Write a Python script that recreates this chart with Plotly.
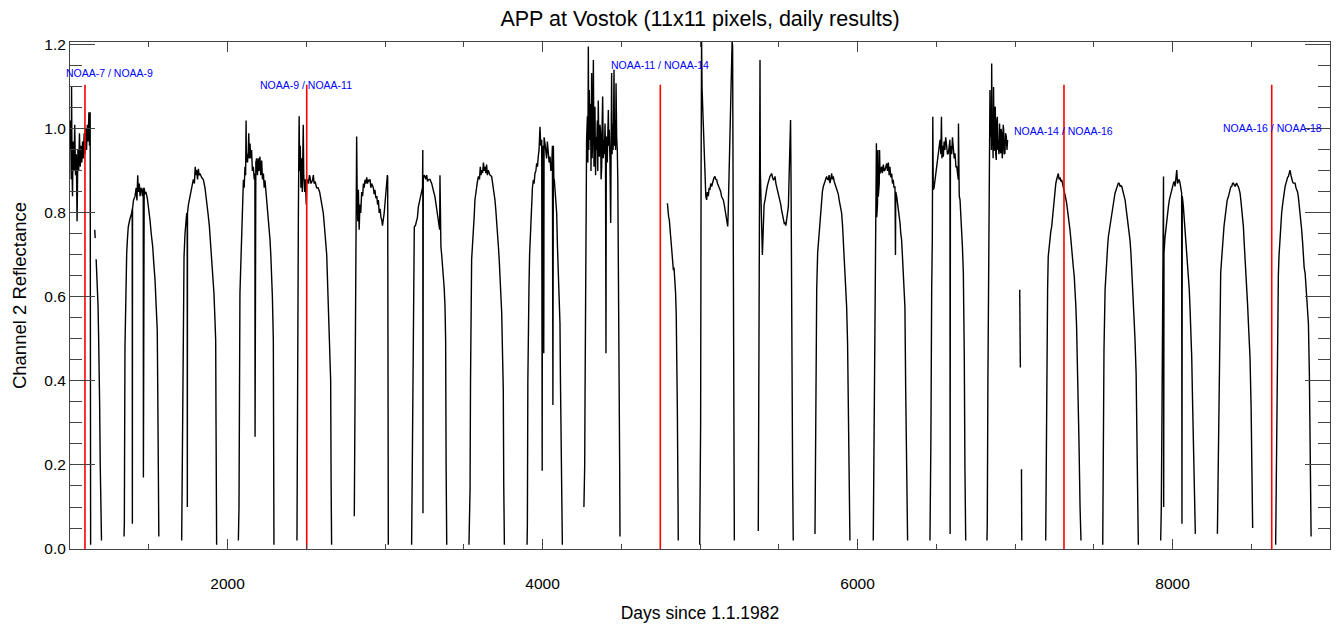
import plotly.graph_objects as go

# ---------------- data ----------------
# Days since 1.1.1982 and channel-2 reflectance, one pair of lists per data stretch
s01_day = [1000, 1004, 1008, 1010, 1013, 1016, 1020, 1025, 1030, 1035, 1040, 1045, 1050, 1055, 1060, 1065,
           1070, 1075, 1080, 1085, 1090, 1095, 1100, 1105, 1110, 1115, 1120, 1124, 1128, 1131]
s01_val = [0.95, 1.02, 0.88, 1.10, 0.90, 0.84, 0.97, 0.90, 1.01, 0.89, 0.94, 0.78, 0.95, 0.90, 0.99, 0.91,
           0.96, 0.92, 0.97, 0.93, 0.99, 0.94, 1.00, 0.95, 1.01, 0.97, 1.04, 0.96, 1.04, 0.01]

s02_day = [1157, 1160]
s02_val = [0.76, 0.74]

s03_day = [1166, 1170, 1174, 1178, 1182, 1185, 1188, 1192, 1196, 1200]
s03_val = [0.69, 0.66, 0.62, 0.58, 0.50, 0.44, 0.35, 0.20, 0.10, 0.02]

s04_day = [1343, 1345, 1349, 1354, 1360, 1365, 1370, 1380, 1392, 1395, 1396, 1397, 1403, 1413, 1420, 1425,
           1430, 1434, 1440, 1445, 1450, 1455, 1460, 1465, 1466, 1467, 1471, 1476, 1482, 1491, 1500, 1508,
           1516, 1525, 1532, 1540, 1547, 1554, 1557, 1561, 1564]
s04_val = [0.03, 0.06, 0.48, 0.62, 0.705, 0.74, 0.767, 0.785, 0.80, 0.81, 0.06, 0.81, 0.83, 0.84, 0.86, 0.83,
           0.89, 0.85, 0.87, 0.84, 0.86, 0.855, 0.84, 0.86, 0.17, 0.85, 0.86, 0.845, 0.85, 0.835, 0.81, 0.783,
           0.75, 0.72, 0.68, 0.64, 0.58, 0.52, 0.386, 0.085, 0.03]

s05_day = [1709, 1712, 1716, 1720, 1724, 1730, 1736, 1741, 1744, 1745, 1746, 1752, 1762, 1772, 1783, 1790,
           1795, 1800, 1804, 1810, 1815, 1820, 1825, 1835, 1847, 1857, 1868, 1876, 1885, 1892, 1899, 1906,
           1914, 1920, 1925, 1927, 1929, 1931]
s05_val = [0.02, 0.15, 0.40, 0.577, 0.696, 0.75, 0.78, 0.80, 0.79, 0.10, 0.80, 0.82, 0.84, 0.865, 0.88, 0.87,
           0.91, 0.89, 0.902, 0.88, 0.905, 0.89, 0.894, 0.885, 0.879, 0.86, 0.831, 0.80, 0.768, 0.73, 0.696, 0.65,
           0.609, 0.55, 0.497, 0.315, 0.10, 0.01]

s06_day = [2069, 2073, 2079, 2085, 2090, 2095, 2101, 2106, 2111, 2115, 2118, 2120, 2122, 2127, 2132, 2135,
           2138, 2143, 2148, 2153, 2158, 2164, 2170, 2174, 2175, 2176, 2180, 2185, 2190, 2196, 2200, 2206,
           2211, 2217, 2222, 2228, 2233, 2238, 2244, 2249, 2254, 2259, 2265, 2270, 2275, 2280, 2285, 2291,
           2293, 2295]
s06_val = [0.02, 0.10, 0.609, 0.68, 0.70, 0.80, 0.879, 0.86, 0.91, 0.89, 1.02, 0.92, 0.94, 0.92, 0.95, 0.99,
           0.93, 0.965, 0.93, 0.95, 0.90, 0.91, 0.88, 0.894, 0.267, 0.90, 0.92, 0.93, 0.89, 0.93, 0.90, 0.934,
           0.89, 0.925, 0.88, 0.894, 0.86, 0.878, 0.85, 0.847, 0.82, 0.80, 0.77, 0.736, 0.70, 0.657, 0.60, 0.497,
           0.20, 0.01]

s07_day = [2441, 2443, 2446, 2450, 2453, 2455, 2458, 2462, 2466, 2470, 2475, 2481, 2484, 2490, 2495, 2500,
           2503, 2510, 2515, 2520, 2524, 2530, 2540, 2545, 2550, 2556, 2566, 2575, 2585, 2595, 2608, 2615,
           2622, 2630, 2635, 2640, 2646, 2651, 2655, 2658, 2661]
s07_val = [0.02, 0.30, 0.657, 0.80, 0.95, 1.03, 0.90, 0.96, 0.86, 0.93, 0.85, 1.01, 0.89, 0.85, 0.88, 0.82,
           0.87, 0.88, 0.87, 0.89, 0.885, 0.87, 0.878, 0.89, 0.87, 0.875, 0.86, 0.86, 0.85, 0.83, 0.80, 0.77,
           0.74, 0.70, 0.64, 0.577, 0.52, 0.497, 0.402, 0.15, 0.01]

s08_day = [2805, 2810, 2815, 2820, 2823, 2827, 2831, 2836, 2841, 2846, 2852, 2858, 2863, 2868, 2873, 2878,
           2884, 2889, 2894, 2900, 2905, 2910, 2915, 2920, 2926, 2931, 2936, 2942, 2948, 2953, 2958, 2963,
           2969, 2974, 2979, 2984, 2989, 2995, 3000, 3005, 3011, 3015, 3017, 3019, 3021]
s08_val = [0.078, 0.40, 0.80, 0.982, 0.86, 0.78, 0.855, 0.76, 0.82, 0.80, 0.85, 0.84, 0.87, 0.86, 0.879, 0.87,
           0.885, 0.87, 0.879, 0.875, 0.88, 0.86, 0.87, 0.865, 0.86, 0.845, 0.855, 0.835, 0.84, 0.82, 0.831, 0.80,
           0.81, 0.79, 0.784, 0.77, 0.78, 0.80, 0.823, 0.85, 0.879, 0.89, 0.886, 0.30, 0.01]

s09_day = [3169, 3173, 3177, 3180, 3183, 3186, 3193, 3201, 3206, 3212, 3222, 3233, 3238, 3240, 3241, 3242,
           3243, 3248, 3254, 3260, 3265, 3270, 3275, 3285, 3296, 3306, 3317, 3328, 3339, 3347, 3349, 3351,
           3355, 3360, 3365, 3370, 3376, 3381, 3385, 3388, 3392]
s09_val = [0.01, 0.17, 0.40, 0.545, 0.70, 0.767, 0.77, 0.78, 0.79, 0.815, 0.835, 0.855, 0.86, 0.95, 0.085, 0.88,
           0.879, 0.89, 0.887, 0.88, 0.89, 0.875, 0.879, 0.88, 0.871, 0.855, 0.839, 0.81, 0.784, 0.76, 0.89, 0.74,
           0.72, 0.70, 0.68, 0.657, 0.62, 0.577, 0.497, 0.20, 0.01]

s10_day = [3533, 3537, 3540, 3543, 3546, 3550, 3555, 3561, 3566, 3571, 3576, 3582, 3587, 3593, 3600, 3605,
           3610, 3614, 3620, 3625, 3630, 3635, 3640, 3645, 3650, 3656, 3666, 3677, 3688, 3698, 3703, 3709,
           3714, 3720, 3725, 3730, 3736, 3741, 3747, 3751, 3754, 3758]
s10_val = [0.01, 0.10, 0.14, 0.40, 0.58, 0.689, 0.72, 0.752, 0.79, 0.831, 0.85, 0.863, 0.875, 0.887, 0.88, 0.91,
           0.89, 0.902, 0.895, 0.92, 0.90, 0.91, 0.895, 0.915, 0.89, 0.902, 0.89, 0.887, 0.863, 0.831, 0.81, 0.784,
           0.75, 0.72, 0.69, 0.657, 0.61, 0.562, 0.45, 0.38, 0.15, 0.01]

s11_day = [3902, 3904, 3907, 3910, 3914, 3918, 3921, 3926, 3931, 3936, 3942, 3947, 3952, 3958, 3963, 3968,
           3973, 3978, 3984, 3989, 3995, 3998, 4000, 4005, 4008, 4010, 4016, 4021, 4026, 4031, 4037, 4042,
           4048, 4053, 4058, 4063, 4066, 4069, 4072, 4075, 4079, 4084, 4090, 4095, 4100, 4104, 4107, 4111,
           4114, 4117, 4121, 4126]
s11_val = [0.01, 0.06, 0.40, 0.55, 0.62, 0.70, 0.736, 0.77, 0.80, 0.86, 0.879, 0.87, 0.894, 0.90, 0.918, 0.91,
           0.934, 0.95, 1.005, 0.96, 0.974, 0.186, 0.96, 0.95, 0.466, 0.98, 0.965, 0.94, 0.93, 0.97, 0.95, 0.92,
           0.934, 0.90, 0.91, 0.96, 0.343, 0.96, 0.88, 0.879, 0.863, 0.83, 0.80, 0.72, 0.657, 0.60, 0.577, 0.537,
           0.40, 0.307, 0.10, 0.01]

s12_day = [4263, 4268, 4270, 4276, 4280, 4285, 4288, 4291, 4294, 4297, 4301, 4305, 4308, 4312, 4315, 4318,
           4321, 4323, 4327, 4330, 4333, 4337, 4340, 4344, 4348, 4351, 4354, 4358, 4361, 4365, 4369, 4372,
           4376, 4379, 4382, 4386, 4390, 4393, 4397, 4400, 4403, 4405, 4407, 4411, 4414, 4418, 4421, 4424,
           4428, 4433, 4436, 4439, 4442, 4445, 4448, 4451, 4454, 4457, 4460, 4464, 4467, 4471, 4475, 4478,
           4481, 4484, 4488, 4490, 4492]
s12_val = [0.10, 0.20, 0.362, 0.815, 0.974, 1.03, 0.92, 1.196, 0.95, 1.093, 0.974, 1.06, 0.90, 1.133, 0.93, 0.974,
           1.08, 1.164, 0.91, 1.00, 1.053, 0.89, 0.98, 0.95, 1.02, 0.90, 1.068, 0.96, 0.934, 1.01, 0.99, 0.88,
           0.91, 1.02, 1.077, 0.93, 0.974, 0.94, 1.013, 0.95, 0.466, 0.96, 0.982, 0.92, 1.00, 1.045, 0.96, 0.998,
           0.93, 0.776, 0.98, 1.133, 0.94, 1.013, 0.95, 1.00, 1.141, 0.96, 1.021, 0.95, 1.109, 0.98, 0.95, 0.88,
           0.736, 0.60, 0.458, 0.20, 0.03]

s13_day = [4793, 4797, 4801, 4805, 4810, 4814, 4818, 4822, 4826, 4831, 4835, 4839, 4842, 4845, 4849, 4852,
           4856, 4860, 4862]
s13_val = [0.823, 0.80, 0.79, 0.784, 0.76, 0.736, 0.72, 0.72, 0.70, 0.664, 0.67, 0.65, 0.62, 0.609, 0.56, 0.497,
           0.338, 0.14, 0.02]

s14_day = [4998, 5002, 5004, 5007, 5010, 5013, 5017, 5021, 5025, 5028, 5032, 5037, 5042, 5047, 5053, 5058,
           5063, 5068, 5074, 5080, 5085, 5090, 5095, 5100, 5106, 5111, 5116, 5122, 5127, 5132, 5137, 5143,
           5148, 5154, 5159, 5164, 5169, 5173, 5176, 5179, 5182, 5186, 5190, 5193, 5195, 5198, 5201, 5204,
           5207, 5210, 5212, 5214, 5216, 5218]
s14_val = [0.01, 0.15, 0.30, 0.90, 1.207, 1.10, 1.053, 1.00, 0.942, 0.90, 0.879, 0.84, 0.831, 0.85, 0.84, 0.86,
           0.855, 0.87, 0.863, 0.875, 0.879, 0.885, 0.887, 0.88, 0.879, 0.87, 0.863, 0.86, 0.855, 0.85, 0.839, 0.835,
           0.831, 0.82, 0.807, 0.79, 0.784, 0.775, 0.768, 0.80, 0.855, 0.92, 0.974, 1.05, 1.093, 1.15, 1.207, 1.21,
           1.196, 0.70, 0.49, 0.346, 0.15, 0.02]

s15_day = [5370, 5373, 5375, 5377, 5379, 5381, 5383, 5385, 5388, 5391, 5394, 5396, 5398, 5402, 5407, 5413,
           5418, 5423, 5428, 5434, 5439, 5444, 5450, 5455, 5460, 5466, 5471, 5476, 5482, 5487, 5492, 5497,
           5502, 5508, 5513, 5518, 5524, 5529, 5535, 5540, 5545, 5550, 5555, 5561, 5564, 5567, 5571, 5575,
           5578, 5582, 5585, 5588, 5592]
s15_val = [0.043, 0.30, 0.65, 0.966, 0.85, 1.164, 0.90, 0.855, 0.80, 0.784, 0.74, 0.70, 0.72, 0.79, 0.82, 0.831,
           0.85, 0.855, 0.865, 0.871, 0.88, 0.887, 0.89, 0.894, 0.885, 0.879, 0.88, 0.887, 0.87, 0.863, 0.855, 0.847,
           0.84, 0.831, 0.82, 0.807, 0.795, 0.784, 0.775, 0.776, 0.77, 0.784, 0.80, 0.815, 0.86, 0.894, 0.974, 1.021,
           0.879, 0.418, 0.30, 0.18, 0.02]

s16_day = [5730, 5733, 5736, 5741, 5747, 5753, 5757, 5762, 5767, 5772, 5777, 5783, 5788, 5794, 5799, 5804,
           5810, 5815, 5820, 5825, 5830, 5836, 5841, 5846, 5852, 5857, 5862, 5868, 5873, 5878, 5884, 5889,
           5894, 5899, 5905, 5910, 5915, 5920, 5926, 5931, 5937, 5942, 5946, 5952]
s16_val = [0.036, 0.20, 0.402, 0.617, 0.705, 0.736, 0.76, 0.784, 0.81, 0.831, 0.85, 0.863, 0.87, 0.879, 0.885, 0.887,
           0.88, 0.879, 0.89, 0.871, 0.88, 0.894, 0.88, 0.887, 0.875, 0.87, 0.86, 0.855, 0.85, 0.845, 0.83, 0.82,
           0.81, 0.80, 0.77, 0.736, 0.70, 0.664, 0.62, 0.577, 0.49, 0.315, 0.163, 0.02]

s17_day = [6100, 6104, 6107, 6111, 6115, 6118, 6120, 6122, 6127, 6129, 6132, 6138, 6140, 6143, 6148, 6153,
           6158, 6164, 6169, 6174, 6180, 6185, 6190, 6196, 6201, 6206, 6211, 6217, 6222, 6227, 6232, 6238,
           6241, 6243, 6249, 6254, 6259, 6265, 6270, 6275, 6280, 6285, 6291, 6296, 6301, 6306, 6309, 6312, 6318]
s17_val = [0.02, 0.20, 0.339, 0.625, 0.736, 0.80, 0.966, 0.79, 0.82, 0.95, 0.839, 0.87, 0.95, 0.894, 0.90, 0.91,
           0.895, 0.915, 0.90, 0.902, 0.91, 0.918, 0.90, 0.92, 0.89, 0.91, 0.885, 0.894, 0.87, 0.879, 0.86, 0.863,
           0.70, 0.85, 0.839, 0.825, 0.815, 0.79, 0.776, 0.75, 0.736, 0.70, 0.664, 0.62, 0.577, 0.379, 0.25, 0.14, 0.02]

s18_day = [6460, 6463, 6466, 6471, 6475, 6478, 6481, 6486, 6492, 6497, 6502, 6508, 6513, 6518, 6524, 6529,
           6533, 6536, 6540, 6545, 6550, 6555, 6560, 6566, 6571, 6577, 6582, 6587, 6588, 6590, 6595, 6598,
           6603, 6608, 6614, 6619, 6625, 6630, 6635, 6640, 6641, 6643, 6646, 6651, 6656, 6661, 6666, 6672,
           6676, 6678, 6682, 6687]
s18_val = [0.02, 0.10, 0.26, 0.617, 0.736, 1.029, 0.855, 0.86, 0.879, 0.89, 0.91, 0.92, 0.942, 0.95, 0.974, 0.94,
           1.029, 0.93, 0.96, 0.934, 0.97, 0.95, 0.98, 0.96, 0.94, 0.942, 0.97, 0.974, 0.036, 0.95, 0.96, 0.94,
           0.98, 0.95, 0.93, 0.942, 0.91, 0.91, 0.89, 0.879, 1.013, 0.87, 0.84, 0.831, 0.80, 0.768, 0.72, 0.657,
           0.56, 0.458, 0.196, 0.02]

s19_day = [6822, 6824, 6828, 6831, 6834, 6837, 6839, 6841, 6844, 6848, 6850, 6852, 6855, 6858, 6861, 6864,
           6867, 6869, 6872, 6875, 6878, 6881, 6884, 6888, 6891, 6894, 6898, 6902, 6906, 6909, 6912, 6915,
           6919, 6922, 6925, 6928, 6932, 6936, 6940, 6945, 6949, 6953]
s19_val = [0.02, 0.06, 0.40, 0.537, 0.75, 0.855, 0.95, 1.093, 0.98, 1.038, 0.95, 1.156, 0.96, 0.99, 0.93, 1.10,
           0.95, 0.95, 1.05, 1.053, 0.94, 0.926, 1.02, 1.029, 0.95, 0.974, 0.94, 1.013, 0.95, 0.942, 1.00, 0.99,
           0.93, 0.95, 1.01, 0.998, 0.94, 0.942, 0.99, 0.982, 0.95, 0.974]

s20_day = [7030, 7032, 7034]
s20_val = [0.617, 0.50, 0.432]

s21_day = [7041, 7043]
s21_val = [0.19, 0.02]

s22_day = [7195, 7198, 7201, 7207, 7211, 7216, 7222, 7227, 7233, 7238, 7243, 7249, 7254, 7259, 7264, 7270,
           7275, 7280, 7286, 7291, 7296, 7302, 7307, 7312, 7317, 7322, 7328, 7333, 7338, 7343, 7349, 7354,
           7360, 7365, 7370, 7376, 7381, 7386, 7391, 7398, 7406, 7413, 7419]
s22_val = [0.02, 0.20, 0.418, 0.617, 0.696, 0.72, 0.744, 0.755, 0.768, 0.79, 0.807, 0.83, 0.855, 0.87, 0.879, 0.885,
           0.894, 0.88, 0.885, 0.875, 0.879, 0.87, 0.863, 0.855, 0.847, 0.835, 0.823, 0.81, 0.80, 0.78, 0.76, 0.74,
           0.72, 0.69, 0.672, 0.65, 0.625, 0.58, 0.53, 0.418, 0.26, 0.10, 0.02]

s23_day = [7557, 7561, 7565, 7572, 7577, 7582, 7588, 7593, 7598, 7603, 7608, 7614, 7620, 7625, 7630, 7635,
           7641, 7646, 7651, 7656, 7662, 7667, 7672, 7678, 7683, 7688, 7694, 7699, 7704, 7709, 7715, 7720,
           7725, 7730, 7736, 7741, 7746, 7752, 7757, 7762, 7769, 7773, 7779, 7783]
s23_val = [0.01, 0.26, 0.474, 0.617, 0.66, 0.696, 0.72, 0.744, 0.755, 0.768, 0.78, 0.792, 0.81, 0.823, 0.835, 0.847,
           0.855, 0.863, 0.868, 0.871, 0.87, 0.863, 0.865, 0.863, 0.855, 0.847, 0.84, 0.831, 0.815, 0.80, 0.785, 0.768,
           0.75, 0.736, 0.705, 0.672, 0.625, 0.577, 0.54, 0.497, 0.418, 0.30, 0.10, 0.01]

s24_day = [7925, 7929, 7932, 7935, 7938, 7941, 7943, 7944, 7945, 7946, 7952, 7959, 7963, 7968, 7974, 7980,
           7988, 7995, 8000, 8006, 8011, 8016, 8021, 8027, 8032, 8037, 8042, 8048, 8053, 8058, 8060, 8062,
           8065, 8069, 8074, 8080, 8085, 8090, 8095, 8101, 8106, 8111, 8117, 8122, 8128, 8137, 8145]
s24_val = [0.02, 0.10, 0.26, 0.45, 0.562, 0.65, 0.887, 0.10, 0.68, 0.705, 0.74, 0.768, 0.785, 0.80, 0.815, 0.831,
           0.845, 0.855, 0.865, 0.871, 0.875, 0.863, 0.88, 0.902, 0.87, 0.879, 0.88, 0.871, 0.86, 0.847, 0.06, 0.84,
           0.83, 0.815, 0.79, 0.768, 0.745, 0.72, 0.69, 0.657, 0.62, 0.577, 0.52, 0.458, 0.34, 0.18, 0.036]

s25_day = [8285, 8288, 8291, 8295, 8298, 8302, 8306, 8312, 8317, 8322, 8327, 8334, 8340, 8347, 8355, 8360,
           8365, 8370, 8376, 8381, 8387, 8392, 8397, 8403, 8408, 8413, 8418, 8424, 8429, 8434, 8439, 8445,
           8450, 8455, 8461, 8466, 8471, 8477, 8482, 8487, 8492, 8499, 8503, 8509]
s25_val = [0.036, 0.15, 0.26, 0.40, 0.497, 0.60, 0.657, 0.69, 0.72, 0.745, 0.768, 0.79, 0.815, 0.83, 0.839, 0.85,
           0.855, 0.862, 0.863, 0.87, 0.871, 0.865, 0.863, 0.868, 0.871, 0.865, 0.863, 0.855, 0.847, 0.83, 0.815, 0.79,
           0.768, 0.73, 0.696, 0.66, 0.617, 0.58, 0.537, 0.50, 0.458, 0.34, 0.22, 0.05]

s26_day = [8655, 8658, 8662, 8668, 8672, 8676, 8683, 8688, 8693, 8699, 8704, 8710, 8715, 8720, 8725, 8731,
           8736, 8741, 8746, 8752, 8757, 8762, 8767, 8773, 8778, 8784, 8789, 8794, 8799, 8805, 8810, 8815,
           8820, 8826, 8831, 8836, 8842, 8847, 8852, 8858, 8863, 8869, 8873, 8880]
s26_val = [0.01, 0.15, 0.339, 0.577, 0.65, 0.696, 0.752, 0.78, 0.80, 0.82, 0.839, 0.85, 0.863, 0.87, 0.879, 0.885,
           0.887, 0.895, 0.902, 0.89, 0.879, 0.875, 0.871, 0.87, 0.871, 0.86, 0.855, 0.85, 0.839, 0.82, 0.80, 0.78,
           0.76, 0.73, 0.696, 0.67, 0.657, 0.63, 0.609, 0.57, 0.537, 0.418, 0.26, 0.03]

# satellite switch markers
switch_days = [1095, 2503, 4748, 7311, 8630]
switch_top = 1.105
switch_labels = ["NOAA-7 / NOAA-9", "NOAA-9 / NOAA-11", "NOAA-11 / NOAA-14",
                 "NOAA-14 / NOAA-16", "NOAA-16 / NOAA-18"]
label_days = [1248, 2500, 4748, 7308, 8632]
label_vals = [1.133, 1.105, 1.152, 0.995, 1.002]

x_ticks = [2000, 4000, 6000, 8000]
y_ticks = [0.0, 0.2, 0.4, 0.6, 0.8, 1.0, 1.2]
y_ticktext = ["0.0", "0.2", "0.4", "0.6", "0.8", "1.0", "1.2"]

# ---------------- figure ----------------
segments = [
    (s01_day, s01_val), (s02_day, s02_val), (s03_day, s03_val), (s04_day, s04_val),
    (s05_day, s05_val), (s06_day, s06_val), (s07_day, s07_val), (s08_day, s08_val),
    (s09_day, s09_val), (s10_day, s10_val), (s11_day, s11_val), (s12_day, s12_val),
    (s13_day, s13_val), (s14_day, s14_val), (s15_day, s15_val), (s16_day, s16_val),
    (s17_day, s17_val), (s18_day, s18_val), (s19_day, s19_val), (s20_day, s20_val),
    (s21_day, s21_val), (s22_day, s22_val), (s23_day, s23_val), (s24_day, s24_val),
    (s25_day, s25_val), (s26_day, s26_val),
]
xs, ys = [], []
for d, v in segments:
    xs += list(d) + [None]
    ys += list(v) + [None]

FONT = "Liberation Sans, Arial, Helvetica, sans-serif"
AX = "#444444"

fig = go.Figure()
fig.add_trace(go.Scatter(x=xs, y=ys, mode="lines", connectgaps=False,
                         line=dict(color="black", width=1.4),
                         hoverinfo="skip", showlegend=False))

rx, ry = [], []
for d in switch_days:
    rx += [d, d, None]
    ry += [0, switch_top, None]
fig.add_trace(go.Scatter(x=rx, y=ry, mode="lines", line=dict(color="#ff0000", width=1.6),
                         hoverinfo="skip", showlegend=False))

for t, d, v in zip(switch_labels, label_days, label_vals):
    fig.add_annotation(x=d, y=v, xref="x", yref="y", text=t, showarrow=False,
                       xanchor="center", yanchor="middle",
                       font=dict(family=FONT, size=10.5, color="#0000ff"))

fig.update_layout(
    width=1337, height=629,
    margin=dict(l=70, r=7, t=42, b=80, autoexpand=False),
    paper_bgcolor="white", plot_bgcolor="white",
    font=dict(family=FONT, color="black"),
    title=dict(text="APP at Vostok (11x11 pixels, daily results)",
               x=0.5, xref="paper", xanchor="center",
               y=1 - 18 / 629, yref="container", yanchor="middle",
               font=dict(family=FONT, size=21.5, color="black")),
    showlegend=False,
)
fig.update_xaxes(
    range=[1000, 9000], tickvals=x_ticks, ticks="inside", ticklen=10, tickwidth=1,
    tickcolor=AX, showline=True, linecolor=AX, linewidth=1, mirror="ticks",
    showgrid=False, zeroline=False, tickfont=dict(family=FONT, size=15.5),
    ticklabelstandoff=20, automargin=False,
    minor=dict(dtick=500, tick0=0, ticks="inside", ticklen=5, tickcolor=AX, showgrid=False),
    title=dict(text="Days since 1.1.1982", font=dict(family=FONT, size=17.5), standoff=16),
)
fig.update_yaxes(
    range=[0, 1.207], tickvals=y_ticks, ticktext=y_ticktext, ticks="inside", ticklen=25,
    tickwidth=1, tickcolor=AX, showline=True, linecolor=AX, linewidth=1, mirror="ticks",
    showgrid=False, zeroline=False, tickfont=dict(family=FONT, size=15.5), automargin=False,
    minor=dict(dtick=0.05, tick0=0, ticks="inside", ticklen=12, tickcolor=AX, showgrid=False),
    title=dict(text="Channel 2 Reflectance", font=dict(family=FONT, size=18.5), standoff=12),
)

fig.write_html("out.html", config={"displayModeBar": False},
               post_script="document.body.style.margin='0';")
